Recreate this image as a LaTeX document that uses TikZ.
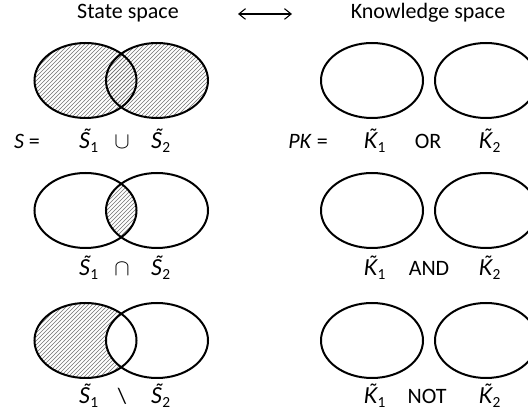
\documentclass[tikz,border=0pt]{standalone}
\usepackage{fontspec}
\setmainfont{Carlito}
\newfontfamily\lato{Lato}
\usetikzlibrary{arrows.meta,patterns}
\newcommand{\tS}[1]{{\lato\itshape S^^^^0303}\textsubscript{#1}}
\newcommand{\tK}[1]{{\lato\itshape K^^^^0303}\textsubscript{#1}}

\begin{document}
\begin{tikzpicture}[x=0.75pt,y=0.75pt,
  font=\fontsize{16.5}{20}\selectfont,
  every node/.style={inner sep=1pt},
  set/.style={draw=black,line width=1.5pt},
  hatch/.style={pattern=north east lines,pattern color=black!55},
  lbl/.style={anchor=base}]

\useasboundingbox (0,0) rectangle (528,417);

% ---- titles ----
\node (state) at (128,404) {State space};
\node (know) at (428,404) {Knowledge space};
\coordinate (arrL) at (238,403);
\coordinate (arrR) at (292,403);
\draw[line width=0.8pt,{Straight Barb[length=5pt,width=8pt]}-{Straight Barb[length=5pt,width=8pt]}] (arrL)--(arrR);

% ---- state space (west) ----
\coordinate (u1) at (85.5,336.5); \coordinate (u2) at (157,336.5);
\coordinate (i1) at (85.5,206.5); \coordinate (i2) at (157,206.5);
\coordinate (d1) at (85.5,76.5);  \coordinate (d2) at (157,76.5);

% union
\fill[hatch] (u1) ellipse (51 and 37.5);
\fill[hatch] (u2) ellipse (51 and 37.5);
% intersection
\begin{scope}
  \clip (i1) ellipse (51 and 37.5);
  \fill[hatch] (i2) ellipse (51 and 37.5);
\end{scope}
% difference
\fill[hatch] (d1) ellipse (51 and 37.5);
\begin{scope}
  \clip (d1) ellipse (51 and 37.5);
  \fill[white] (d2) ellipse (51 and 37.5);
\end{scope}

\foreach \c in {u1,u2,i1,i2,d1,d2}
  \draw[set] (\c) ellipse (51 and 37.5);

\node[lbl] (seq) at (27,268) {\textit{S} =};
\node[lbl] (us1) at (89,268) {\tS{1}};
\node[lbl] (cup) at (122,268) {$\cup$};
\node[lbl] (us2) at (161,268) {\tS{2}};

\node[lbl] (is1) at (89,141) {\tS{1}};
\node[lbl] (cap) at (122,141) {$\cap$};
\node[lbl] (is2) at (161,141) {\tS{2}};

\node[lbl] (ds1) at (89,13) {\tS{1}};
\node[lbl] (minus) at (122,13) {\textbackslash};
\node[lbl] (ds2) at (161,13) {\tS{2}};

% ---- knowledge space (east) ----
\coordinate (o1) at (372,336.5); \coordinate (o2) at (486,336.5);
\coordinate (a1) at (372,206.5); \coordinate (a2) at (486,206.5);
\coordinate (n1) at (372,76.5);  \coordinate (n2) at (486,76.5);
\foreach \c in {o1,o2,a1,a2,n1,n2}
  \draw[set] (\c) ellipse (51 and 37.5);

\node[lbl] (pkeq) at (308,268) {\textit{PK} =};
\node[lbl] (ok1) at (375,268) {\tK{1}};
\node[lbl] (or) at (428,268) {OR};
\node[lbl] (ok2) at (490,268) {\tK{2}};

\node[lbl] (ak1) at (375,141) {\tK{1}};
\node[lbl] (and) at (429,141) {AND};
\node[lbl] (ak2) at (490,141) {\tK{2}};

\node[lbl] (nk1) at (375,13) {\tK{1}};
\node[lbl] (not) at (427,13) {NOT};
\node[lbl] (nk2) at (490,13) {\tK{2}};
\end{tikzpicture}
\end{document}
